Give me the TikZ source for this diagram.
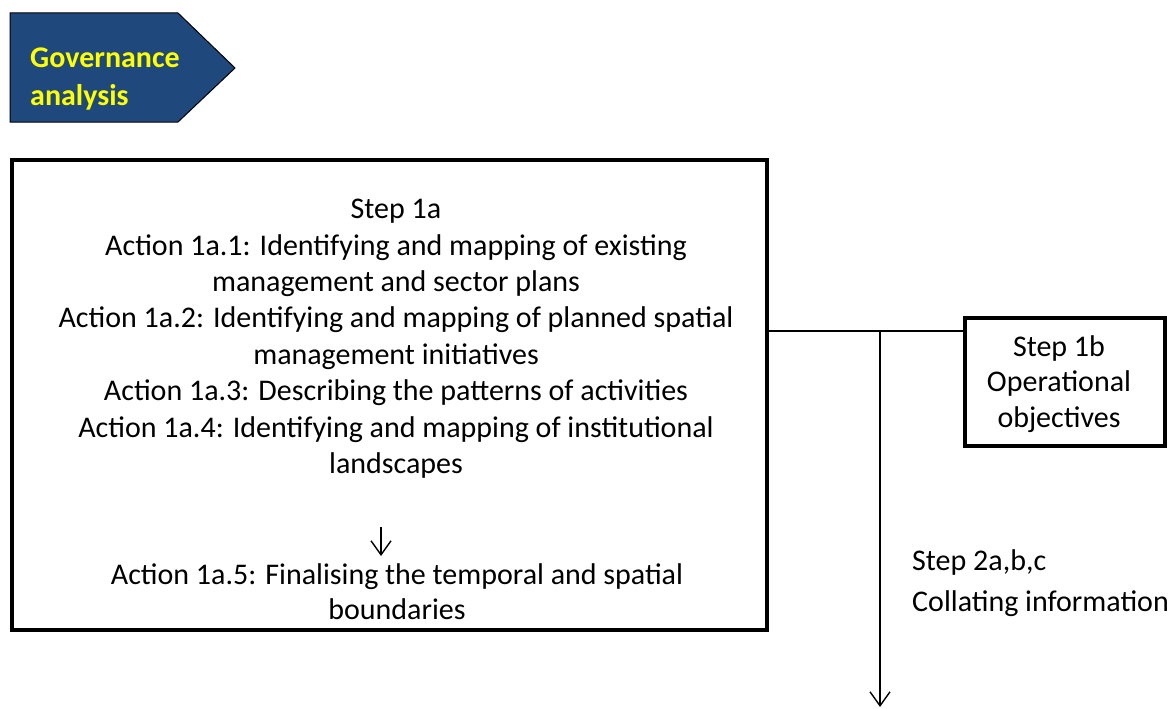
\documentclass[tikz,border=0pt]{standalone}
\usepackage{fontspec}
\setmainfont{Carlito}
\usetikzlibrary{arrows.meta}
\definecolor{govblue}{HTML}{1F487C}
\definecolor{govyellow}{HTML}{FFFF00}
\begin{document}
\begin{tikzpicture}[x=1pt,y=-1pt,
  thickbox/.style={draw=black,line width=4pt,fill=white,inner sep=0pt},
  txt/.style={align=center,inner sep=0pt,font=\fontsize{30}{36.4}\selectfont},
  conn/.style={draw=black,line width=1.4pt},
  arr/.style={conn,-{Straight Barb[length=14pt,width=20pt,line width=1.4pt]}}]
\useasboundingbox (0,0) rectangle (1172,709);
% heading pentagon
\path[draw=black,line width=1pt,fill=govblue] (10,13) -- (178,13) -- (235,68) -- (178,122) -- (10,122) -- cycle;
\node[anchor=north west,align=left,inner sep=0pt,text=govyellow,font=\fontsize{30}{38}\selectfont\bfseries] (gov) at (30,48) {Governance\\analysis};
% main box
\node[thickbox,minimum width=755pt,minimum height=470pt] (step1a) at (389.5,395) {};
\node[txt,anchor=north] (acts) at (396,199) {Step 1a\\Action 1a.1: Identifying and mapping of existing\\management and sector plans\\Action 1a.2: Identifying and mapping of planned spatial\\management initiatives\\Action 1a.3: Describing the patterns of activities\\Action 1a.4: Identifying and mapping of institutional\\landscapes};
\node[txt,anchor=north,font=\fontsize{30}{35}\selectfont] (act5) at (397,563) {Action 1a.5: Finalising the temporal and spatial\\boundaries};
\coordinate (a1) at (381,527);
\coordinate (a2) at (381,556);
\draw[arr] (a1) -- (a2);
% step 1b
\node[thickbox,minimum width=200pt,minimum height=128pt] (step1b) at (1065,382) {};
\node[txt,font=\fontsize{30}{35.5}\selectfont] (s1btxt) at (1059,384) {Step 1b\\Operational\\objectives};
% connectors
\coordinate (j) at (880,331);
\coordinate (bot) at (880,707);
\draw[conn] (step1a.east |- j) -- (step1b.west |- j);
\draw[arr] (j) -- (bot);
\node[anchor=north west,align=left,inner sep=0pt,font=\fontsize{30}{41}\selectfont] (s2) at (912,549) {Step 2a,b,c\\Collating information};
\end{tikzpicture}
\end{document}
